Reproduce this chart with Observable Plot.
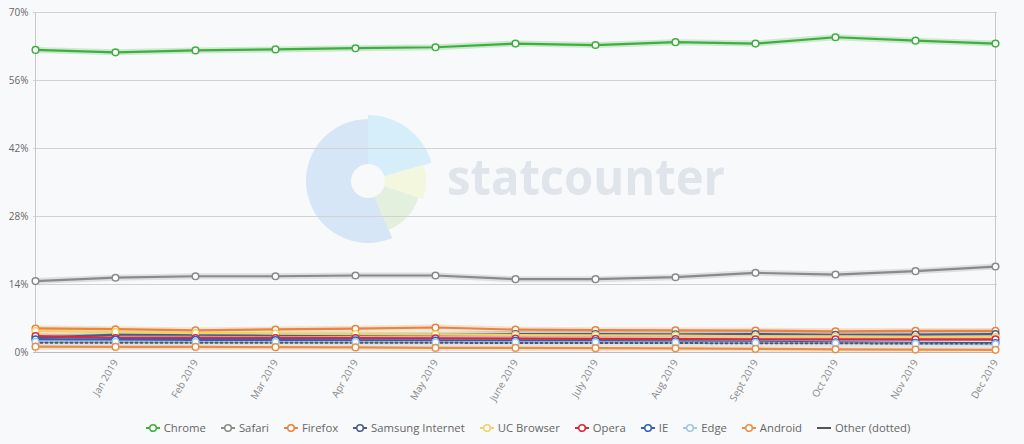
<!DOCTYPE html>
<html>
<head>
<meta charset="utf-8">
<script src="https://cdn.jsdelivr.net/npm/d3@7"></script>
<script src="https://cdn.jsdelivr.net/npm/@observablehq/plot@0.6"></script>
<style>
  html, body { margin: 0; padding: 0; background: #f8f9fb; }
  #wrap { width: 1024px; height: 444px; position: relative; overflow: hidden; font-family: "Open Sans", sans-serif; }
  #legend { display: flex; justify-content: center; align-items: center; gap: 15px; height: 39px; padding-top: 3px; padding-left: 32px; font-size: 11.3px; color: #666; }
  .item { display: flex; align-items: center; gap: 4px; white-space: nowrap; }
</style>
</head>
<body>
<div id="wrap"><div id="chart"></div><div id="legend"></div></div>
<script>
const months = ["Dec 2018","Jan 2019","Feb 2019","Mar 2019","Apr 2019","May 2019","June 2019","July 2019","Aug 2019","Sept 2019","Oct 2019","Nov 2019","Dec 2019"];
const yTicks = [0, 14, 28, 42, 56, 70];

const chrome   = [62.3, 61.8, 62.2, 62.4, 62.65, 62.85, 63.6, 63.3, 63.9, 63.6, 64.9, 64.2, 63.6];
const safari   = [14.7, 15.4, 15.7, 15.7, 15.85, 15.85, 15.1, 15.1, 15.5, 16.4, 16.05, 16.75, 17.7];
const firefox  = [4.95, 4.8, 4.55, 4.75, 4.9, 5.15, 4.7, 4.6, 4.55, 4.5, 4.35, 4.45, 4.45];
const samsung  = [3.0, 3.7, 3.65, 3.55, 3.6, 3.65, 3.8, 3.8, 3.75, 3.8, 3.65, 3.7, 3.8];
const ucbrowser= [4.4, 4.2, 4.0, 3.9, 3.8, 3.75, 3.6, 3.55, 3.5, 3.35, 3.3, 3.2, 3.2];
const opera    = [3.4, 3.0, 3.0, 2.95, 2.95, 2.9, 2.85, 2.8, 2.75, 2.7, 2.7, 2.7, 2.7];
const ie       = [2.7, 2.65, 2.6, 2.55, 2.5, 2.45, 2.4, 2.35, 2.3, 2.2, 2.1, 2.0, 1.95];
const edge     = [2.2, 2.2, 2.15, 2.15, 2.15, 2.1, 2.1, 2.1, 2.05, 2.0, 1.9, 1.8, 1.7];
const android  = [1.2, 1.15, 1.15, 1.1, 1.05, 0.95, 0.95, 0.9, 0.85, 0.75, 0.65, 0.6, 0.55];
const other    = [2.0, 2.0, 2.0, 2.0, 2.0, 2.0, 1.95, 1.95, 1.95, 1.9, 1.9, 1.85, 1.85];

const names  = ["Chrome","Safari","Firefox","Samsung Internet","UC Browser","Opera","IE","Edge","Android","Other (dotted)"];
const colors = ["#3daf3d","#8a8a8a","#e8843c","#4a5a8c","#f0d264","#d8283c","#2f5fb6","#9ec6ea","#e98f45","#555555"];
const valueLists = [chrome, safari, firefox, samsung, ucbrowser, opera, ie, edge, android, other];

const rows = names.flatMap((name, i) => valueLists[i].map((v, j) => ({series: name, month: months[j], value: v, color: colors[i]})));
const marked = rows.filter(d => d.series !== "Other (dotted)");
const otherRows = rows.filter(d => d.series === "Other (dotted)");

// decorative watermark
function watermark(index, scales, values, dimensions) {
  const g = d3.create("svg:g");
  const cx = 368, cy = 181;
  const arc = d3.arc();
  const segs = [
    {a0: 157, a1: 360, r: 62, c: "#d6e6f6"},
    {a0: 0, a1: 74, r: 66, c: "#d5eefa"},
    {a0: 74, a1: 108, r: 58, c: "#f2f7dd"},
    {a0: 108, a1: 157, r: 53, c: "#e3f0de"}
  ];
  for (const s of segs) {
    g.append("path")
      .attr("transform", `translate(${cx},${cy})`)
      .attr("d", arc({innerRadius: 17, outerRadius: s.r, startAngle: s.a0 * Math.PI / 180, endAngle: s.a1 * Math.PI / 180}))
      .attr("fill", s.c);
  }
  g.append("text")
    .attr("x", 447).attr("y", 195)
    .attr("text-anchor", "start")
    .attr("font-family", "Open Sans, sans-serif")
    .attr("font-weight", 700)
    .attr("font-size", 50)
    .attr("textLength", 278)
    .attr("lengthAdjust", "spacingAndGlyphs")
    .attr("fill", "#e0e4eb")
    .text("statcounter");
  return g.node();
}

const plot = Plot.plot({
  width: 1024,
  height: 405,
  marginLeft: 33,
  marginRight: 27,
  marginTop: 12,
  marginBottom: 53,
  style: {background: "transparent", fontFamily: "Open Sans, sans-serif", fontSize: "10px", color: "#777"},
  x: {type: "point", domain: months, padding: 0},
  y: {domain: [0, 70]},
  marks: [
    watermark,
    Plot.ruleY(yTicks, {stroke: "#d2d2d2", strokeWidth: 1}),
    Plot.ruleX([months[0], months[months.length - 1]], {stroke: "#c8c8c8", strokeWidth: 1}),
    Plot.ruleY([0], {stroke: "#bdbdbd", strokeWidth: 1.2}),
    Plot.axisY({ticks: yTicks, tickSize: 0, tickPadding: 5, tickFormat: d => d + "%", fill: "#666", fontSize: 10, label: null}),
    Plot.axisX({ticks: months.slice(1), tickSize: 0, tickPadding: 8, tickRotate: -60, fill: "#888", fontSize: 10, label: null}),
    Plot.line(marked, {x: "month", y: "value", z: "series", stroke: "color", strokeWidth: 6, strokeOpacity: 0.22}),
    Plot.line(otherRows, {x: "month", y: "value", stroke: "#dde3ee", strokeWidth: 5}),
    Plot.line(marked, {x: "month", y: "value", z: "series", stroke: "color", strokeWidth: 2.2}),
    Plot.line(otherRows, {x: "month", y: "value", stroke: "color", strokeWidth: 2, strokeDasharray: "2,3"}),
    Plot.dot(marked, {x: "month", y: "value", r: 3.3, fill: "white", stroke: "color", strokeWidth: 1.5})
  ]
});
document.getElementById("chart").appendChild(plot);

// legend
const legend = document.getElementById("legend");
names.forEach((name, i) => {
  const item = document.createElement("div");
  item.className = "item";
  const isOther = name === "Other (dotted)";
  const sym = isOther
    ? `<svg width="14" height="10"><line x1="0" y1="5" x2="14" y2="5" stroke="${colors[i]}" stroke-width="2"/></svg>`
    : `<svg width="14" height="10"><line x1="0" y1="5" x2="14" y2="5" stroke="${colors[i]}" stroke-width="2"/><circle cx="7" cy="5" r="3.3" fill="white" stroke="${colors[i]}" stroke-width="1.6"/></svg>`;
  item.innerHTML = sym + `<span>${name}</span>`;
  legend.appendChild(item);
});
</script>
</body>
</html>
